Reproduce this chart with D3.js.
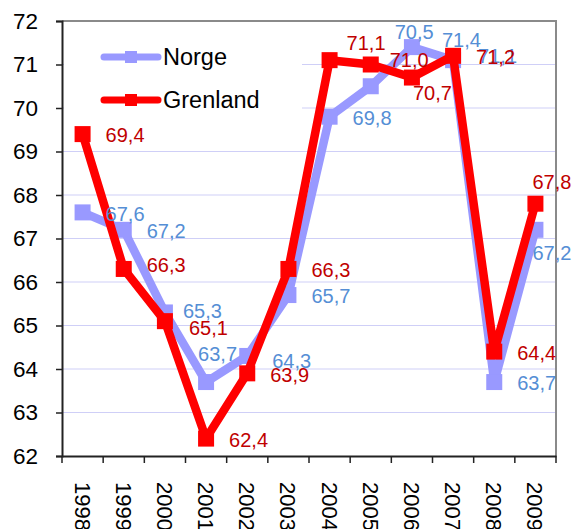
<!DOCTYPE html>
<html>
  <head>
    <script src="https://d3js.org/d3.v7.min.js" charset="utf-8"></script>
    <style>
      body { margin: 0; background: #fff; }
      svg { font-family: "Liberation Sans", Arial, sans-serif; }
    </style>
  </head>
  <body>
    <svg></svg>
    <script>
      const years = ["1998", "1999", "2000", "2001", "2002", "2003", "2004", "2005", "2006", "2007", "2008", "2009"];
      const norge = [67.6, 67.2, 65.3, 63.7, 64.3, 65.7, 69.8, 70.5, 71.4, 71.1, 63.7, 67.2];
      const grenland = [69.4, 66.3, 65.1, 62.4, 63.9, 66.3, 71.1, 71.0, 70.7, 71.2, 64.4, 67.8];
      const yTicks = [62, 63, 64, 65, 66, 67, 68, 69, 70, 71, 72];

      // where the labels sit next to their point (default is to the right)
      const labelShift = {
        Norge: { 2000: [18, -2], 2001: [-8, -28], 2002: [25, 5], 2005: [24, -54], 2006: [30, -7], 2007: [25, -4], 2009: [-3, 23] },
        Grenland: { 1999: [23, -4], 2000: [24, 7], 2004: [17, -17], 2005: [19, -5], 2006: [1, 15], 2009: [-3, -22] },
      };

      const W = 574, H = 529;
      const plot = { left: 62, right: 556, top: 21, bottom: 456 };

      const series = [
        { name: "Norge", values: norge, color: "#9999FF", label: "#558ED5" },
        { name: "Grenland", values: grenland, color: "#FF0000", label: "#C00000" },
      ];

      const svg = d3.select("svg").attr("width", W).attr("height", H);

      const x = d3.scaleBand().domain(years).range([plot.left, plot.right]);
      const y = d3.scaleLinear().domain([62, 72]).range([plot.bottom, plot.top]);
      const cx = (d) => x(d) + x.bandwidth() / 2;

      // grid
      svg.append("g")
        .selectAll("line")
        .data(yTicks.slice(1))
        .enter()
        .append("line")
        .attr("x1", plot.left).attr("x2", plot.right)
        .attr("y1", (d) => y(d)).attr("y2", (d) => y(d))
        .attr("stroke", "#CFCFF7")
        .attr("stroke-width", 1.2);

      // frame top and right
      svg.append("path")
        .attr("d", `M${plot.left},${plot.top}H${plot.right}V${plot.bottom}`)
        .attr("fill", "none")
        .attr("stroke", "#8a8a8a")
        .attr("stroke-width", 2);

      // y axis
      const yAxis = svg.append("g")
        .attr("transform", `translate(${plot.left},0)`)
        .call(d3.axisLeft(y).tickValues(yTicks).tickSize(6).tickPadding(18).tickFormat(d3.format("d")));
      yAxis.select(".domain").attr("stroke", "#222").attr("stroke-width", 2);
      yAxis.selectAll(".tick line").attr("stroke", "#222").attr("stroke-width", 1.5);
      yAxis.selectAll("text").attr("font-size", 22.5).attr("fill", "#000");

      // x axis: labels at band centres, ticks at band edges
      const xAxis = svg.append("g")
        .attr("transform", `translate(0,${plot.bottom})`)
        .call(d3.axisBottom(x).tickSize(0).tickSizeOuter(0));
      xAxis.select(".domain").attr("stroke", "#222").attr("stroke-width", 2);
      xAxis.selectAll("text")
        .attr("font-size", 22)
        .attr("fill", "#000")
        .attr("transform", "rotate(90)")
        .attr("x", 26)
        .attr("y", 0)
        .attr("dy", "0.36em")
        .style("text-anchor", "start");

      const edges = years.map((d) => x(d)).concat([plot.right]);
      svg.append("g")
        .selectAll("line")
        .data(edges)
        .enter()
        .append("line")
        .attr("x1", (d) => d).attr("x2", (d) => d)
        .attr("y1", plot.bottom).attr("y2", plot.bottom + 7)
        .attr("stroke", "#222")
        .attr("stroke-width", 1.5);

      // legend box
      svg.append("rect")
        .attr("x", plot.left + 2).attr("y", plot.top + 2)
        .attr("width", 238).attr("height", 105)
        .attr("fill", "#fff");

      const line = d3.line()
        .x((d) => cx(d.year))
        .y((d) => y(d.value));

      series.forEach((s) => {
        const pts = years.map((yr, i) => ({ year: yr, value: s.values[i] }));
        svg.append("path")
          .datum(pts)
          .attr("fill", "none")
          .attr("stroke", s.color)
          .attr("stroke-width", 8.5)
          .attr("stroke-linejoin", "round")
          .attr("d", line);
        svg.append("g")
          .selectAll("rect")
          .data(pts)
          .enter()
          .append("rect")
          .attr("x", (d) => cx(d.year) - 8)
          .attr("y", (d) => y(d.value) - 8)
          .attr("width", 16)
          .attr("height", 16)
          .attr("fill", s.color);
      });

      series.forEach((s) => {
        const pts = years.map((yr, i) => ({ year: yr, value: s.values[i] }));
        svg.append("g")
          .selectAll("text")
          .data(pts)
          .enter()
          .append("text")
          .attr("x", (d) => cx(d.year) + (labelShift[s.name][d.year] || [23, 1])[0])
          .attr("y", (d) => y(d.value) + (labelShift[s.name][d.year] || [23, 1])[1])
          .attr("dy", "0.36em")
          .attr("font-size", 20)
          .attr("fill", s.label)
          .text((d) => d3.format(".1f")(d.value).replace(".", ","));
      });

      // legend
      const legend = svg.append("g");
      series.forEach((s, i) => {
        const ly = 57 + i * 43;
        legend.append("line")
          .attr("x1", 104).attr("x2", 158)
          .attr("y1", ly).attr("y2", ly)
          .attr("stroke", s.color)
          .attr("stroke-width", 7)
          .attr("stroke-linecap", "round");
        legend.append("rect")
          .attr("x", 125).attr("y", ly - 6)
          .attr("width", 12).attr("height", 12)
          .attr("fill", s.color);
        legend.append("text")
          .attr("x", 163).attr("y", ly)
          .attr("dy", "0.36em")
          .attr("font-size", 23.5)
          .attr("fill", "#000")
          .text(s.name);
      });
    </script>
  </body>
</html>
